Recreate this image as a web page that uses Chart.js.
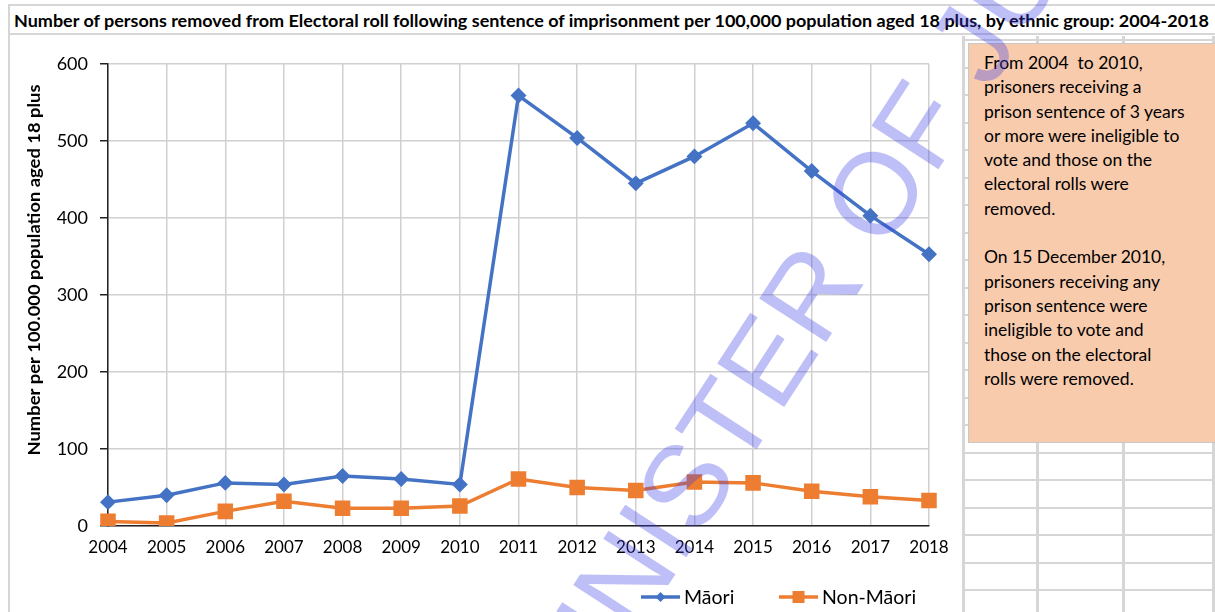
<!DOCTYPE html>
<html>
<head>
<meta charset="utf-8">
<script src="https://cdn.jsdelivr.net/npm/chart.js@4.4.1/dist/chart.umd.min.js"></script>
<style>
  html, body { margin:0; padding:0; background:#fff; }
  body { width:1215px; height:612px; position:relative; overflow:hidden; font-family: Lato, "Open Sans", sans-serif; }
  #titlebox { position:absolute; left:8px; top:4px; width:1207px; height:31px; border-top:2px solid #d6d6d6; border-bottom:2px solid #d6d6d6; border-left:2px solid #d6d6d6; box-sizing:border-box; background:#fff; }
  #title { position:absolute; left:4px; top:4px; font-weight:700; font-size:17px; color:#000; white-space:nowrap; transform-origin:0 0; }
  #leftline { position:absolute; left:8px; top:35px; width:2px; height:577px; background:#d6d6d6; }
  #grid { position:absolute; left:962px; top:36px; width:253px; height:576px;
          background-image: repeating-linear-gradient(to bottom, #d6d6d6 0px, #d6d6d6 2px, transparent 2px, transparent 27.5px);
          background-position: 0 3px; }
  .vcol { position:absolute; top:36px; width:3px; height:576px; background:#d6d6d6; }
  #note { position:absolute; left:968px; top:43px; width:247px; height:400px; background:#F8CBAD; border:1px solid #c8c8c8; border-right:none; box-sizing:border-box;
          padding:7px 0 0 15px; font-size:17.5px; line-height:24.3px; color:#000; }
  #chartwrap { position:absolute; left:9px; top:38px; width:953px; height:574px; }
  #wm { position:absolute; left:0; top:0; width:1215px; height:612px; pointer-events:none; }
</style>
</head>
<body>
<div id="grid"></div>
<div class="vcol" style="left:962px"></div>
<div class="vcol" style="left:1036px"></div>
<div class="vcol" style="left:1122px"></div>
<div class="vcol" style="left:1212px"></div>
<div id="leftline"></div>
<div id="titlebox"><span id="title">Number of persons removed from Electoral roll following sentence of imprisonment per 100,000 population aged 18 plus, by ethnic group: 2004-2018</span></div>
<div id="note">From 2004&nbsp; to 2010,<br>prisoners receiving a<br>prison sentence of 3 years<br>or more were ineligible to<br>vote and those on the<br>electoral rolls were<br>removed.<br><br>On 15 December 2010,<br>prisoners receiving any<br>prison sentence were<br>ineligible to vote and<br>those on the electoral<br>rolls were removed.</div>
<div id="chartwrap"><canvas id="c" width="953" height="574"></canvas></div>
<canvas id="wm" width="1215" height="612"></canvas>
<script>
// ---- data ----
const years = ['2004','2005','2006','2007','2008','2009','2010','2011','2012','2013','2014','2015','2016','2017','2018'];
const maori = [31, 40, 56, 54, 65, 61, 54, 559, 504, 445, 480, 523, 461, 403, 353];
const nonMaori = [6, 4, 19, 32, 23, 23, 26, 61, 50, 46, 57, 56, 45, 38, 33];
const seriesNames = ['Māori', 'Non-Māori'];
const yTitle = 'Number per 100.000 population aged 18 plus';
const watermarkText = 'MINISTER OF JUSTICE';

// fit title width
(function(){
  const t = document.getElementById('title');
  const w = t.getBoundingClientRect().width;
  t.style.transform = 'scaleX(' + (1195 / w) + ')';
})();

const FONT = 'Lato, "Open Sans", sans-serif';

const customDraw = {
  id: 'customDraw',
  afterDraw(chart) {
    const ctx = chart.ctx;
    // y-axis title
    ctx.save();
    ctx.font = '700 17px ' + FONT;
    const tw = ctx.measureText(yTitle).width;
    ctx.translate(26, 232);
    ctx.rotate(-Math.PI / 2);
    ctx.scale(371 / tw, 1);
    ctx.fillStyle = '#000';
    ctx.textAlign = 'center';
    ctx.textBaseline = 'middle';
    ctx.fillText(yTitle, 0, 0);
    ctx.restore();
    // legend
    const items = [
      {x0: 632, x1: 671, tx: 675, ds: chart.data.datasets[0]},
      {x0: 770, x1: 809, tx: 813, ds: chart.data.datasets[1]}
    ];
    const ly = 559;
    items.forEach(it => {
      ctx.save();
      ctx.strokeStyle = it.ds.borderColor;
      ctx.lineWidth = 3.5;
      ctx.beginPath(); ctx.moveTo(it.x0, ly); ctx.lineTo(it.x1, ly); ctx.stroke();
      ctx.fillStyle = it.ds.borderColor;
      const cx = (it.x0 + it.x1) / 2;
      if (it.ds.pointStyle === 'rectRot') {
        const r = 5;
        ctx.beginPath(); ctx.moveTo(cx, ly - r); ctx.lineTo(cx + r, ly); ctx.lineTo(cx, ly + r); ctx.lineTo(cx - r, ly); ctx.closePath(); ctx.fill();
      } else {
        ctx.fillRect(cx - 6, ly - 6, 12, 12);
      }
      ctx.fillStyle = '#000';
      ctx.font = '19.5px ' + FONT;
      ctx.textAlign = 'left';
      ctx.textBaseline = 'middle';
      ctx.fillText(it.ds.label, it.tx, ly + 1);
      ctx.restore();
    });
  }
};

new Chart(document.getElementById('c'), {
  type: 'line',
  data: {
    labels: years,
    datasets: [
      { label: seriesNames[0], data: maori, borderColor: '#4472C4', backgroundColor: '#4472C4',
        borderWidth: 3.5, pointStyle: 'rectRot', pointRadius: 5.5, pointHoverRadius: 5.5, tension: 0 },
      { label: seriesNames[1], data: nonMaori, borderColor: '#ED7D31', backgroundColor: '#ED7D31',
        borderWidth: 3.5, pointStyle: 'rect', pointRadius: 8.5, pointHoverRadius: 8.5, tension: 0 }
    ]
  },
  options: {
    responsive: false,
    animation: false,
    layout: { padding: { left: 0, top: 26, right: 33, bottom: 0 } },
    plugins: { legend: { display: false }, tooltip: { enabled: false }, title: { display: false } },
    scales: {
      x: {
        offset: false,
        grid: { color: '#d0d0d0', lineWidth: 1.5, drawTicks: false },
        border: { color: '#222', width: 1.5 },
        ticks: { color: '#000', font: { family: FONT, size: 17 }, padding: 11, maxRotation: 0, autoSkip: false },
        afterFit: s => { s.height = 86; }
      },
      y: {
        min: 0, max: 600,
        grid: { color: '#d0d0d0', lineWidth: 1.5, tickColor: '#222', tickLength: 8, tickWidth: 1.5 },
        border: { color: '#222', width: 1.5 },
        ticks: { stepSize: 100, color: '#000', font: { family: FONT, size: 18 }, padding: 12 },
        afterFit: s => { s.width = 99; }
      }
    }
  },
  plugins: [customDraw]
});

// watermark overlay
(function(){
  const c = document.getElementById('wm');
  const ctx = c.getContext('2d');
  ctx.font = '116px "Liberation Sans", Arial, sans-serif';
  const pre = ctx.measureText('MINI').width;
  const sW = ctx.measureText('S').width;
  const px = pre + sW / 2, py = -42;
  const th = -57 * Math.PI / 180;
  const cos = Math.cos(th), sin = Math.sin(th);
  const rx = px * cos - py * sin, ry = px * sin + py * cos;
  const ox = 684 - rx, oy = 484 - ry;
  ctx.translate(ox, oy);
  ctx.rotate(th);
  ctx.fillStyle = 'rgba(60,60,235,0.33)';
  ctx.fillText(watermarkText, 0, 0);
})();
</script>
</body>
</html>
